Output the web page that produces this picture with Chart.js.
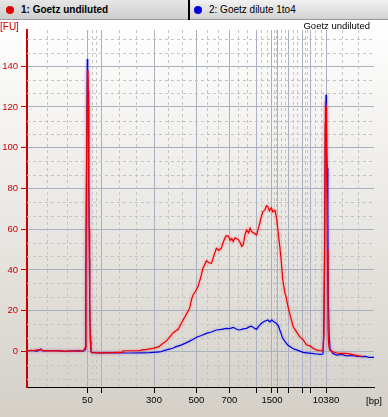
<!DOCTYPE html>
<html>
<head>
<meta charset="utf-8">
<script src="https://cdn.jsdelivr.net/npm/chart.js@4.4.1/dist/chart.umd.min.js"></script>
<style>
    html, body { margin: 0; padding: 0; }
    body { width: 388px; height: 417px; overflow: hidden; background: #d4d0c8; font-family: "Liberation Sans", Arial, sans-serif; }
    .tabs { position: relative; height: 20px; background: linear-gradient(#f2f2f2, #d2d2d2); border-bottom: 1px solid #9a9a9a; box-sizing: border-box; }
    .tab { position: absolute; top: 0; height: 19px; line-height: 19px; font-size: 10px; color: #000; white-space: nowrap; }
    .tab1 { left: 0; width: 188px; font-weight: bold; background: linear-gradient(#e6e6e6, #cdcdcd); }
    .tab2 { left: 190px; width: 198px; }
    .dot { position: absolute; top: 6px; width: 8px; height: 8px; border-radius: 50%; }
    .sep { position: absolute; left: 188px; top: 0; width: 2px; height: 20px; background: #000; }
    #wrap { position: relative; width: 388px; height: 397px; }
</style>
</head>
<body>
<div class="tabs">
    <div class="tab tab1"><span class="dot" style="left:6px;background:#e00000"></span><span style="position:absolute;left:21px">1: Goetz undiluted</span></div>
    <div class="sep"></div>
    <div class="tab tab2"><span class="dot" style="left:4px;background:#0000e0"></span><span style="position:absolute;left:19px">2: Goetz dilute 1to4</span></div>
</div>
<div id="wrap"><canvas id="electropherogram" width="388" height="397"></canvas></div>
<script>
// Ladder peaks: size in bp and migration time (s) where they sit on the x axis
const ladderBp = [50, 100, 300, 500, 700, 1000, 1500, 2000, 3000, 5000, 7000, 10380];
const ladderTime = [52.18, 54.93, 65.62, 74.17, 80.83, 86.20, 89.42, 90.63, 92.73, 95.48, 97.09, 100.32];
const labelledBp = [50, 300, 500, 700, 1500, 10380];
const fuTicks = [0, 20, 40, 60, 80, 100, 120, 140];
const timeRange = [40, 110];
const fuRange = [-17.5, 157.8];

// [time s, FU]
const undiluted = [
    [40.0, 0.3], [41.5, 0.5], [42.6, 0.8], [43.5, 0.2], [45.0, 0.3], [46.6, 0.2], [48.0, 0.0], [49.5, 0.3], [50.5, 0.1], [51.4, 0.2],
    [51.74, 2], [51.9, 40], [52.04, 100], [52.2, 138], [52.3, 136], [52.37, 120], [52.45, 95], [52.55, 60], [52.65, 25], [52.75, 8], [52.85, 2], [52.95, -0.5],
    [53.5, -0.6], [55.0, -0.7], [57.0, -0.6], [58.7, -0.5], [59.3, -0.5], [59.4, 0.3], [61.0, 0.3], [62.7, 0.4], [63.3, 0.7], [64.2, 1.0],
    [65.4, 1.5], [66.5, 2.2], [67.4, 3.9], [68.3, 5.5], [69.5, 9.2], [70.5, 10.8], [71.5, 15.4], [72.2, 18.5], [72.8, 21.1], [73.2, 25.5],
    [73.5, 27.7], [74.0, 29.5], [74.5, 31.8], [75.0, 36.0], [75.5, 40.8], [76.2, 44.5], [76.7, 43.5], [77.2, 43.2], [77.7, 47.0], [78.2, 50.6],
    [78.7, 49.5], [79.2, 50.6], [79.5, 53.0], [79.9, 55.5], [80.2, 56.8], [80.6, 56.6], [81.0, 54.5], [81.3, 55.5], [81.6, 53.9], [82.0, 55.8],
    [82.6, 55.0], [83.0, 53.5], [83.3, 51.5], [83.6, 52.2], [84.0, 57.5], [84.3, 59.6], [84.7, 58.2], [85.0, 60.5], [85.3, 58.8], [85.8, 58.0],
    [86.3, 57.1], [86.7, 60.5], [86.95, 62.9], [87.3, 66.5], [87.6, 68.6], [88.0, 69.5], [88.3, 71.5], [88.6, 71.0], [88.9, 69.0], [89.3, 70.5],
    [89.6, 68.5], [90.0, 69.4], [90.3, 66.1], [90.6, 60.0], [91.0, 51.4], [91.3, 44.0], [91.6, 35.0], [92.0, 29.0], [92.3, 26.5], [92.65, 21.9],
    [93.0, 18.5], [93.7, 12.1], [94.3, 9.8], [95.0, 7.2], [95.7, 5.7], [96.4, 3.1], [97.0, 2.8], [97.7, 1.5], [98.4, 0.7], [99.0, 0.3], [99.4, 0.3], [99.7, 0.6],
    [99.9, 8], [100.05, 50], [100.15, 112], [100.2, 121], [100.32, 120], [100.36, 118], [100.46, 99], [100.6, 50], [100.72, 10.5], [100.86, 3], [101.06, 0.6],
    [101.7, -0.2], [102.5, -0.8], [103.1, -1.0], [104.4, -1.0], [105.5, -1.5], [106.1, -1.8], [107.0, -2.2], [107.6, -2.5]
];

const dilute1to4 = [
    [40.0, 0.2], [41.0, 0.5], [42.0, 0.0], [42.8, 1.2], [43.2, 0.2], [44.5, 0.3], [46.0, 0.4], [47.5, 0.0], [49.0, 0.2], [50.3, 0.4], [51.4, 0.1],
    [51.74, 1], [51.84, 25], [52.0, 88], [52.16, 143.5], [52.25, 138], [52.31, 128], [52.4, 100], [52.5, 80], [52.6, 45], [52.65, 22], [52.8, 5], [52.9, 0.5], [53.05, -0.6],
    [54.7, -0.7], [56.7, -0.6], [58.7, -0.7], [60.7, -0.8], [62.7, -0.7], [64.8, -0.6], [66.8, -0.3], [68.1, 0.7], [69.4, 1.5], [70.1, 2.3],
    [71.2, 3.2], [72.2, 4.3], [73.2, 5.5], [74.2, 6.9], [75.2, 7.8], [76.2, 8.8], [77.2, 9.5], [78.2, 10.5], [79.2, 10.8], [80.2, 11.3],
    [80.9, 11.2], [81.6, 11.8], [82.2, 11.0], [82.9, 10.5], [83.6, 11.0], [84.3, 11.3], [84.8, 12.0], [85.3, 12.4], [85.8, 11.5], [86.3, 10.8],
    [86.8, 12.5], [87.3, 13.8], [87.9, 14.8], [88.6, 15.4], [89.0, 14.5], [89.4, 15.5], [89.7, 14.6], [90.3, 13.8], [90.7, 12.5], [91.0, 10.5],
    [91.6, 6.4], [92.0, 5.0], [92.6, 3.1], [93.7, 1.3], [94.4, 0.7], [95.7, -0.5], [96.4, -0.7], [97.4, -1.0], [98.4, -1.3], [99.1, -1.5], [99.7, -1.3],
    [99.85, 8], [100.0, 40], [100.15, 100], [100.32, 126], [100.42, 110], [100.56, 90], [100.7, 69], [100.8, 25], [100.96, 8], [101.16, 1],
    [101.7, -1.0], [102.5, -1.8], [103.5, -1.5], [104.4, -2.2], [105.5, -2.0], [106.5, -2.5], [107.5, -2.6], [108.3, -2.5], [109.0, -3.0], [110.0, -3.0]
];

const FONT = '"Liberation Sans", Arial, sans-serif';
const GRID = '#a9b0c0';

// light background gradient, dashed minor grid and the loose labels
const electroDecor = {
    id: 'electroDecor',
    beforeDraw(chart) {
        const { ctx, width, height } = chart;
        const g = ctx.createLinearGradient(0, 0, 0, height);
        g.addColorStop(0, '#ffffff');
        g.addColorStop(1, '#d4d0c8');
        ctx.save();
        ctx.fillStyle = g;
        ctx.fillRect(0, 0, width, height);
        ctx.restore();
    },
    beforeDatasetsDraw(chart) {
        const { ctx, chartArea: a, scales: { x, y } } = chart;
        ctx.save();
        ctx.strokeStyle = '#c4c4c4';
        ctx.lineWidth = 1;
        ctx.setLineDash([3, 3]);
        ctx.beginPath();
        // y: thirds of the 20 FU step
        for (let k = Math.ceil(fuRange[0] * 3 / 20); k * 20 / 3 <= fuRange[1]; k++) {
            if (k % 3 === 0) continue;
            const py = Math.round(y.getPixelForValue(k * 20 / 3)) + 0.5;
            ctx.moveTo(a.left, py);
            ctx.lineTo(a.right, py);
        }
        // x: thirds between ladder ticks
        const edges = [x.min, ...ladderTime, x.max];
        for (let i = 0; i < edges.length - 1; i++) {
            const step = (edges[i + 1] - edges[i]) / 3;
            [1, 2].forEach(j => {
                const px = Math.round(x.getPixelForValue(edges[i] + step * j)) + 0.5;
                ctx.moveTo(px, a.top);
                ctx.lineTo(px, a.bottom);
            });
        }
        ctx.stroke();
        ctx.restore();
    },
    beforeDatasetDraw(chart, args) {
        const ctx = chart.ctx;
        ctx.save();
        ctx.shadowBlur = 3;
        ctx.shadowColor = args.index === 0 ? 'rgba(255, 110, 110, 0.8)' : 'rgba(120, 120, 255, 0.6)';
    },
    afterDatasetDraw(chart) {
        chart.ctx.restore();
    },
    afterDraw(chart) {
        const { ctx, chartArea: a } = chart;
        ctx.save();
        ctx.font = '10px ' + FONT;
        ctx.textBaseline = 'middle';
        ctx.fillStyle = '#cc0000';
        ctx.textAlign = 'left';
        ctx.fillText('[FU]', 0, 7);
        ctx.fillStyle = '#000';
        ctx.textAlign = 'right';
        ctx.font = '9.5px ' + FONT;
        ctx.fillText('Goetz undiluted', 370, 6);
        ctx.textAlign = 'center';
        ctx.fillText('[bp]', a.right, a.bottom + 14);
        ctx.restore();
    }
};

new Chart(document.getElementById('electropherogram'), {
    type: 'line',
    data: {
        datasets: [{
            label: '1: Goetz undiluted',
            data: undiluted.map(p => ({ x: p[0], y: p[1] })),
            borderColor: '#ee0000',
            borderWidth: 1.2,
            pointRadius: 0,
            tension: 0,
            fill: false
        }, {
            label: '2: Goetz dilute 1to4',
            data: dilute1to4.map(p => ({ x: p[0], y: p[1] })),
            borderColor: '#0000d8',
            borderWidth: 1.2,
            pointRadius: 0,
            tension: 0,
            fill: false
        }]
    },
    options: {
        responsive: false,
        animation: false,
        layout: { padding: { top: 10, right: 14, bottom: 0, left: 0 } },
        plugins: { legend: { display: false }, tooltip: { enabled: false } },
        scales: {
            x: {
                type: 'linear',
                min: timeRange[0],
                max: timeRange[1],
                afterBuildTicks: s => { s.ticks = ladderTime.map(v => ({ value: v })); },
                afterFit: s => { s.height = 30; },
                ticks: {
                    autoSkip: false,
                    maxRotation: 0,
                    padding: 2,
                    color: '#000',
                    font: { family: FONT, size: 9.5 },
                    callback: (v, i) => labelledBp.includes(ladderBp[i]) ? String(ladderBp[i]) : ''
                },
                grid: { color: GRID, tickColor: '#000', tickLength: 6 },
                border: { color: '#000', width: 1 }
            },
            y: {
                min: fuRange[0],
                max: fuRange[1],
                afterBuildTicks: s => { s.ticks = fuTicks.map(v => ({ value: v })); },
                afterFit: s => { s.width = 27; },
                ticks: {
                    padding: 3,
                    color: '#cc0000',
                    font: { family: FONT, size: 9.5 }
                },
                grid: { color: GRID, tickColor: '#cc0000', tickLength: 6 },
                border: { color: '#cc0000', width: 2 }
            }
        }
    },
    plugins: [electroDecor]
});
</script>
</body>
</html>
